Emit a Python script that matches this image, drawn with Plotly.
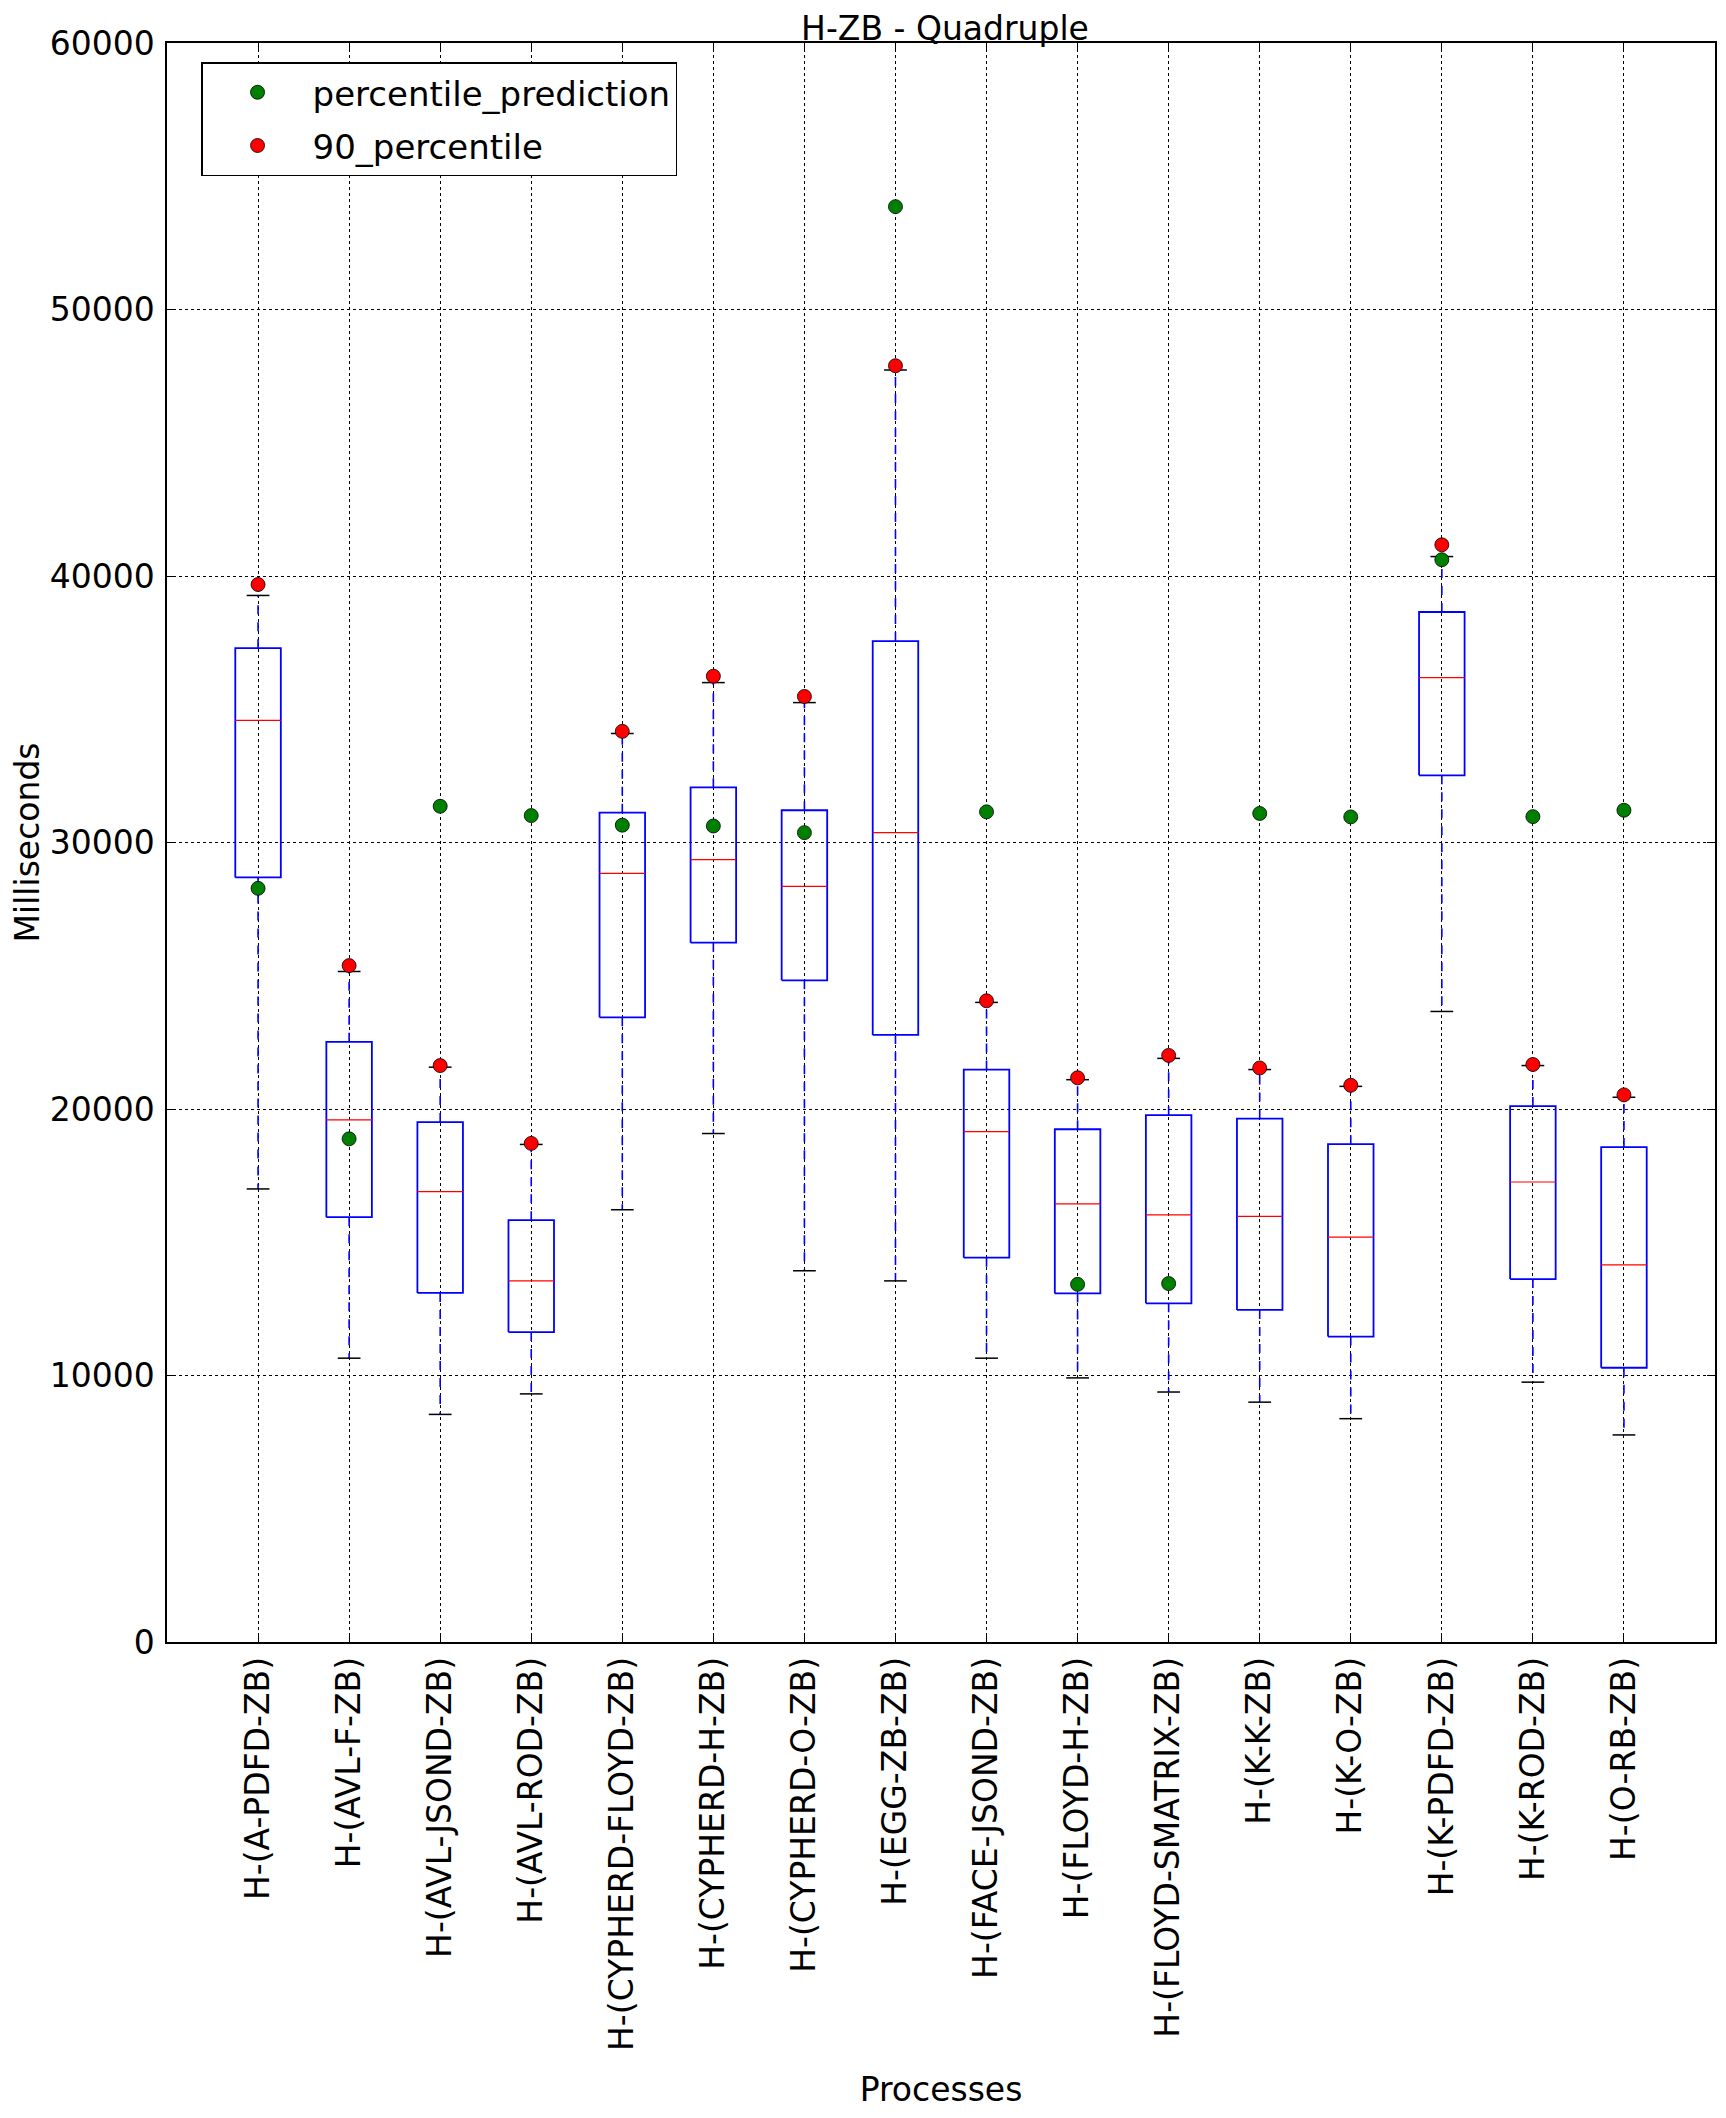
import plotly.graph_objects as go

categories = ["H-(A-PDFD-ZB)", "H-(AVL-F-ZB)", "H-(AVL-JSOND-ZB)", "H-(AVL-ROD-ZB)",
              "H-(CYPHERD-FLOYD-ZB)", "H-(CYPHERD-H-ZB)", "H-(CYPHERD-O-ZB)", "H-(EGG-ZB-ZB)",
              "H-(FACE-JSOND-ZB)", "H-(FLOYD-H-ZB)", "H-(FLOYD-SMATRIX-ZB)", "H-(K-K-ZB)",
              "H-(K-O-ZB)", "H-(K-PDFD-ZB)", "H-(K-ROD-ZB)", "H-(O-RB-ZB)"]
whislo = [17000, 10650, 8540, 9310, 16220, 19080, 13930, 13550, 10650, 9910, 9380, 9000, 8380, 23660, 9750, 7770]
q1 = [28690, 15940, 13100, 11630, 23440, 26240, 24830, 22780, 14420, 13080, 12710, 12460, 11460, 32520, 13620, 10290]
median = [34580, 19590, 16900, 13550, 28840, 29360, 28350, 30370, 19150, 16440, 16030, 15970, 15190, 36190, 17260, 14150]
q3 = [37290, 22520, 19510, 15830, 31120, 32070, 31210, 37560, 21480, 19240, 19770, 19640, 18680, 38650, 20110, 18570]
whishi = [39270, 25160, 21570, 18670, 34090, 36000, 35250, 47730, 24000, 21100, 21900, 21480, 20850, 40730, 21630, 20440]
pct90 = [39680, 25380, 21630, 18710, 34170, 36240, 35480, 47890, 24060, 21170, 22010, 21540, 20890, 41170, 21670, 20530]
prediction = [28280, 18880, 31360, 31010, 30650, 30620, 30370, 53860, 31150, 13420, 13450, 31090, 30960, 40610, 30970, 31210]

y_ticks = [0, 10000, 20000, 30000, 40000, 50000, 60000]

positions = list(range(1, len(categories) + 1))
HW = 0.25   # half box width
CW = 0.125  # half cap width

box_x, box_y = [], []
med_x, med_y = [], []
wh_x, wh_y = [], []
cap_x, cap_y = [], []
for p, a, b, m, c, d in zip(positions, whislo, q1, median, q3, whishi):
    box_x += [p - HW, p + HW, p + HW, p - HW, p - HW, None]
    box_y += [b, b, c, c, b, None]
    med_x += [p - HW, p + HW, None]
    med_y += [m, m, None]
    wh_x += [p, p, None, p, p, None]
    wh_y += [b, a, None, c, d, None]
    cap_x += [p - CW, p + CW, None, p - CW, p + CW, None]
    cap_y += [a, a, None, d, d, None]

FONT = "DejaVu Sans"
FS = 33

fig = go.Figure()
fig.add_trace(go.Scatter(x=wh_x, y=wh_y, mode="lines", showlegend=False, hoverinfo="skip",
                         line=dict(color="blue", width=1.6, dash="9px,8px")))
fig.add_trace(go.Scatter(x=box_x, y=box_y, mode="lines", showlegend=False, hoverinfo="skip",
                         line=dict(color="blue", width=1.8)))
fig.add_trace(go.Scatter(x=med_x, y=med_y, mode="lines", showlegend=False, hoverinfo="skip",
                         line=dict(color="red", width=1.2)))
fig.add_trace(go.Scatter(x=cap_x, y=cap_y, mode="lines", showlegend=False, hoverinfo="skip",
                         line=dict(color="black", width=1.5)))
fig.add_trace(go.Scatter(x=positions, y=pct90, mode="markers", name="90_percentile",
                         legendrank=2, legendgroup="b",
                         marker=dict(color="red", size=14, line=dict(color="black", width=0.8))))
fig.add_trace(go.Scatter(x=positions, y=prediction, mode="markers", name="percentile_prediction",
                         legendrank=1, legendgroup="a",
                         marker=dict(color="green", size=14, line=dict(color="black", width=0.8))))

axis_common = dict(showline=True, linecolor="black", linewidth=1.5, mirror="ticks",
                   ticks="inside", ticklen=8, tickcolor="black",
                   showgrid=True, gridcolor="black", gridwidth=1, griddash="dot",
                   zeroline=False, tickfont=dict(family=FONT, size=FS, color="black"))

fig.update_xaxes(range=[0, 17], tickmode="array", tickvals=positions, ticktext=categories,
                 tickangle=-90,
                 title=dict(text="Processes", font=dict(family=FONT, size=FS, color="black"), standoff=28),
                 **axis_common)
fig.update_yaxes(range=[0, 60000], tickmode="array", tickvals=y_ticks,
                 ticktext=[str(v) for v in y_ticks], ticklabelstandoff=4,
                 title=dict(text="Milliseconds", font=dict(family=FONT, size=FS, color="black"), standoff=10),
                 **axis_common)

fig.update_layout(
    width=1718, height=2110,
    margin=dict(l=158, r=9, t=35, b=476),
    paper_bgcolor="white", plot_bgcolor="white",
    font=dict(family=FONT, size=FS, color="black"),
    title=dict(text="H-ZB - Quadruple", x=0.5454, xanchor="center", y=0.9903, yanchor="middle",
               font=dict(family=FONT, size=FS, color="black")),
    legend=dict(x=0.022, y=0.988, xanchor="left", yanchor="top",
                bgcolor="white", bordercolor="black", borderwidth=1.5,
                font=dict(family=FONT, size=34, color="black"),
                traceorder="grouped", tracegroupgap=6, itemwidth=100),
)

fig.write_html("out.html")
